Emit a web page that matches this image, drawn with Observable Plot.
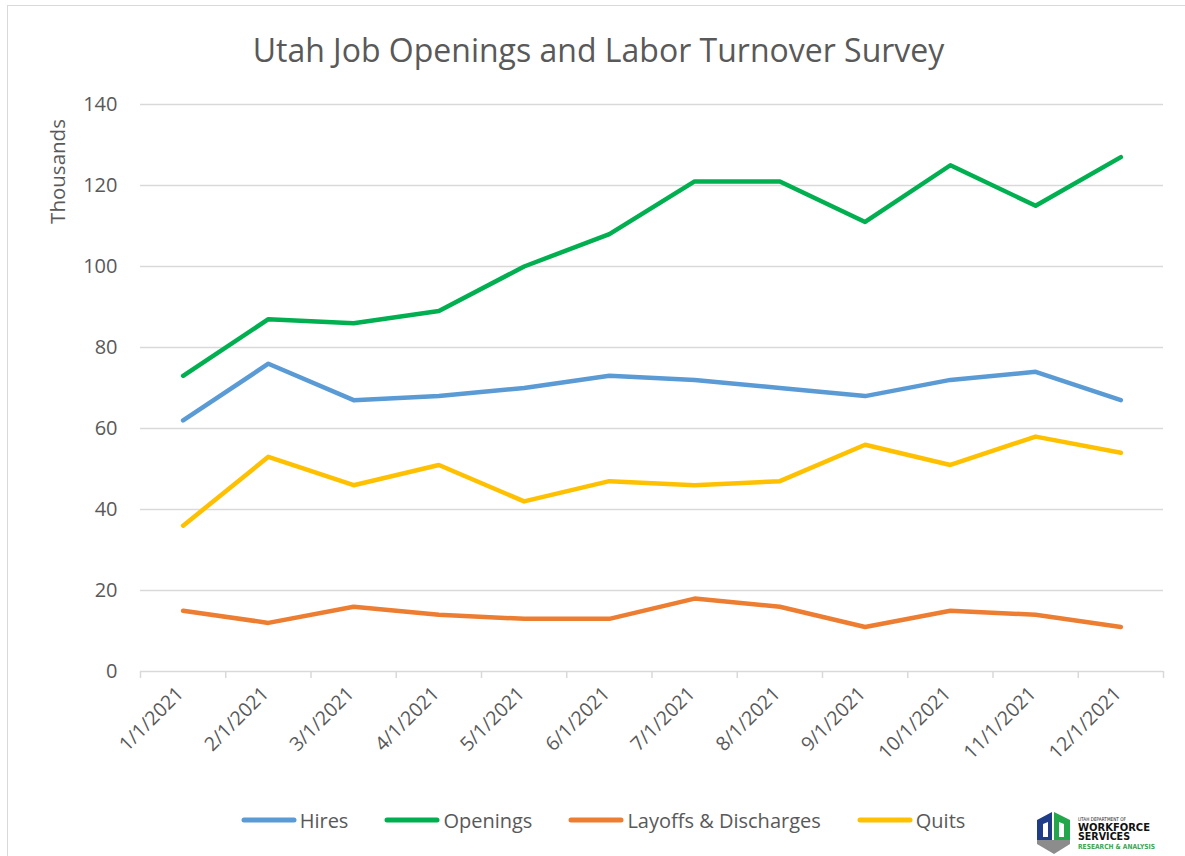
<!DOCTYPE html>
<html>
<head>
<meta charset="utf-8">
<script src="https://cdn.jsdelivr.net/npm/d3@7"></script>
<script src="https://cdn.jsdelivr.net/npm/@observablehq/plot@0.6"></script>
<style>
  html, body { margin: 0; padding: 0; background: #fff; }
  #wrap { position: relative; width: 1185px; height: 856px; overflow: hidden; font-family: "Open Sans", sans-serif; color: #595959; }
  #frame { position: absolute; left: 7px; top: 5px; width: 1190px; height: 900px; border: 1px solid #d9d9d9; box-sizing: border-box; }
  #title { position: absolute; left: 0; top: 0; width: 1197px; height: 80px; line-height: 100px; text-align: center; font-size: 32px; color: #595959; }
  #chart { position: absolute; left: 0; top: 80px; }
  #legend { position: absolute; left: 0; top: 803px; width: 1206px; height: 34px; display: flex; justify-content: center; align-items: center; font-size: 20px; color: #595959; }
  .item { display: flex; align-items: center; margin: 0 18px; }
  .item svg { margin-right: 3px; }
  #logo { position: absolute; left: 1034px; top: 810px; }
</style>
</head>
<body>
<div id="wrap">
  <div id="frame"></div>
  <div id="title">Utah Job Openings and Labor Turnover Survey</div>
  <div id="chart"></div>
  <div id="legend"></div>
  <svg id="logo" width="150" height="44" viewBox="0 0 150 44">
    <polygon points="3,10 18,2 18,30 3,30" fill="#1f3c88"/>
    <polygon points="20,2 36,10 36,30 20,30" fill="#22a84a"/>
    <polygon points="3,30 36,30 36,34 20,44 3,34" fill="#8c8c8c"/>
    <polygon points="9,14 14,12 14,27 9,27" fill="#fff"/>
    <polygon points="25,12 30,14 30,27 25,27" fill="#fff"/>
    <text x="44" y="11" font-family="DejaVu Sans, sans-serif" font-size="5" fill="#222" textLength="48" lengthAdjust="spacingAndGlyphs">UTAH DEPARTMENT OF</text>
    <text x="44" y="21" font-family="DejaVu Sans, sans-serif" font-weight="bold" font-size="10" fill="#111" textLength="72" lengthAdjust="spacingAndGlyphs">WORKFORCE</text>
    <text x="44" y="30" font-family="DejaVu Sans, sans-serif" font-weight="bold" font-size="10" fill="#111" textLength="52" lengthAdjust="spacingAndGlyphs">SERVICES</text>
    <text x="44" y="38.5" font-family="DejaVu Sans, sans-serif" font-weight="bold" font-size="7" fill="#3aa655" textLength="77" lengthAdjust="spacingAndGlyphs">RESEARCH &amp; ANALYSIS</text>
  </svg>
</div>
<script>
const categories = ["1/1/2021","2/1/2021","3/1/2021","4/1/2021","5/1/2021","6/1/2021","7/1/2021","8/1/2021","9/1/2021","10/1/2021","11/1/2021","12/1/2021"];
const seriesNames = ["Hires","Openings","Layoffs & Discharges","Quits"];
const seriesColors = ["#5b9bd5","#00b050","#ed7d31","#ffc000"];
const hires     = [62, 76, 67, 68, 70, 73, 72, 70, 68, 72, 74, 67];
const openings  = [73, 87, 86, 89, 100, 108, 121, 121, 111, 125, 115, 127];
const layoffs   = [15, 12, 16, 14, 13, 13, 18, 16, 11, 15, 14, 11];
const quits     = [36, 53, 46, 51, 42, 47, 46, 47, 56, 51, 58, 54];
const yTicks = [0, 20, 40, 60, 80, 100, 120, 140];
const yLabel = "Thousands";

const seriesValues = [hires, openings, layoffs, quits];
const rows = [];
seriesNames.forEach((name, s) => {
  seriesValues[s].forEach((v, i) => rows.push({series: name, idx: i, cat: categories[i], value: v}));
});

const n = categories.length;
const gray = "#595959";

const chart = Plot.plot({
  width: 1185,
  height: 720,
  marginLeft: 140,
  marginRight: 22,
  marginTop: 24,
  marginBottom: 129,
  style: {fontFamily: "Open Sans, sans-serif", fontSize: "20px", color: gray, background: "transparent"},
  x: {type: "linear", domain: [0, n], axis: null},
  y: {domain: [0, 140], axis: null},
  color: {domain: seriesNames, range: seriesColors},
  marks: [
    Plot.ruleY(yTicks, {stroke: "#d9d9d9", strokeWidth: 1.5}),
    Plot.axisX({ticks: d3.range(n + 1), tickSize: 7, tickFormat: () => "", stroke: "#d9d9d9", strokeWidth: 1.5, strokeOpacity: 1}),
    Plot.axisX({ticks: d3.range(n).map(i => i + 0.5), tickSize: 0, tickPadding: 19, tickRotate: -45, dx: -3,
                tickFormat: t => categories[Math.floor(t)], fill: gray, fontSize: 19.5, label: null}),
    Plot.axisY({ticks: yTicks, tickSize: 0, tickPadding: 23, fill: gray, fontSize: 20, label: null}),
    Plot.text([yLabel], {frameAnchor: "top-left", dx: -82, dy: 67, rotate: -90, textAnchor: "middle", lineAnchor: "middle", fill: gray, fontSize: 20.5}),
    Plot.line(rows, {x: d => d.idx + 0.5, y: "value", z: "series", stroke: "series", strokeWidth: 4.5, strokeLinecap: "round", strokeLinejoin: "round"})
  ]
});
document.getElementById("chart").appendChild(chart);

const legend = document.getElementById("legend");
seriesNames.forEach((name, s) => {
  const item = document.createElement("div");
  item.className = "item";
  item.innerHTML = `<svg width="56" height="10"><line x1="3" y1="5" x2="53" y2="5" stroke="${seriesColors[s]}" stroke-width="5" stroke-linecap="round"/></svg><span>${name.replace("&", "&amp;")}</span>`;
  legend.appendChild(item);
});
</script>
</body>
</html>
